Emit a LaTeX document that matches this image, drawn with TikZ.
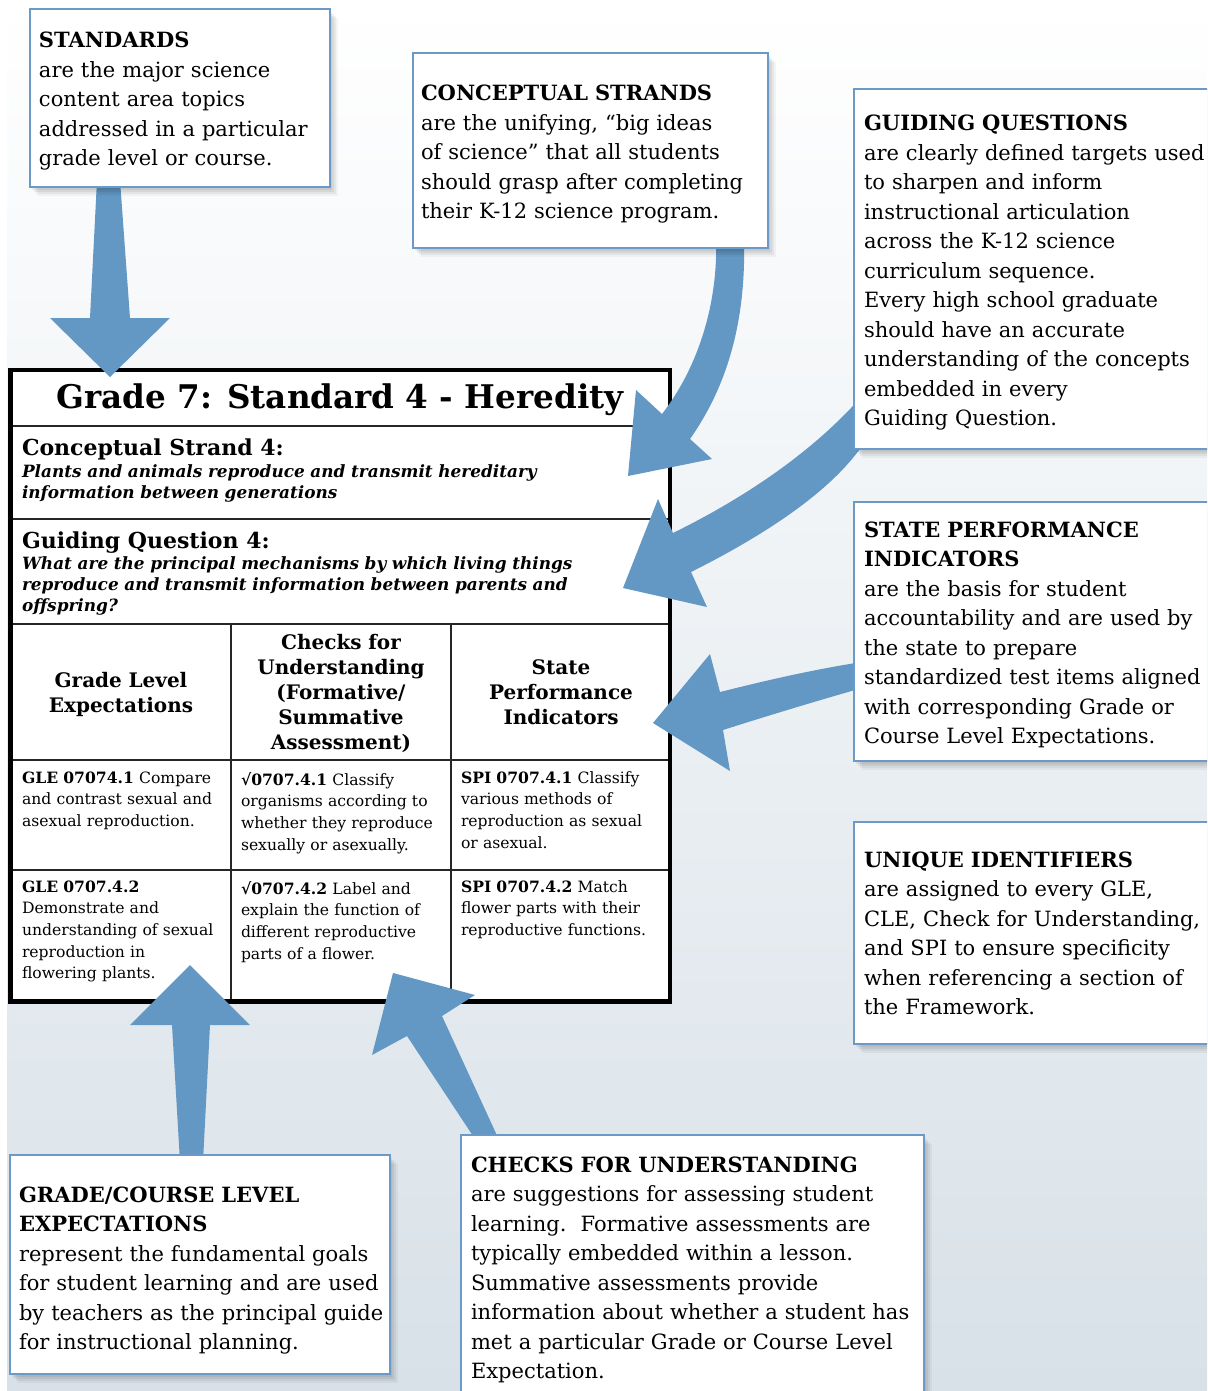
\documentclass[tikz,border=0pt]{standalone}
\usepackage{fontspec}
\setmainfont{DejaVu Serif}
\usetikzlibrary{fit}
\definecolor{arrowblue}{RGB}{99,152,197}
\definecolor{boxblue}{RGB}{108,154,200}
\definecolor{bgbot}{RGB}{216,225,232}
\tikzset{
  plain/.style={inner sep=0pt, outer sep=0pt},
  softshadow/.style={
    preaction={fill=black, fill opacity=0.06, transform canvas={shift={(1pt,-1.5pt)}}},
    preaction={fill=black, fill opacity=0.06, transform canvas={shift={(2pt,-2.5pt)}}},
    preaction={fill=black, fill opacity=0.05, transform canvas={shift={(3pt,-3.5pt)}}},
    preaction={fill=black, fill opacity=0.04, transform canvas={shift={(4pt,-4.5pt)}}}},
  callout/.style={plain, draw=boxblue, line width=1.1pt, fill=white, softshadow},
  calltext/.style={plain, anchor=base west, text width=260pt, align=left,
    font=\fontsize{10.5}{14.75}\selectfont},
  blockarrow/.style={fill=arrowblue},
  tframe/.style={plain, draw=black, line width=2.25pt, fill=white},
  tline/.style={draw=black!85, line width=0.8pt},
  titletext/.style={plain, anchor=base, font=\bfseries\fontsize{16.3}{19}\selectfont},
  rowhead/.style={plain, anchor=base west, font=\bfseries\fontsize{11}{14}\selectfont},
  rowtext/.style={plain, anchor=base west, text width=330pt, align=left,
    font=\bfseries\itshape\fontsize{8.45}{10.6}\selectfont},
  cellhead/.style={plain, anchor=base, text width=108pt, align=center,
    font=\bfseries\fontsize{10}{12.5}\selectfont},
  celltext/.style={plain, anchor=base west, text width=130pt, align=left,
    font=\fontsize{7.8}{10.85}\selectfont},
}
\begin{document}
\begin{tikzpicture}[x=0.5pt,y=-0.5pt]
\useasboundingbox (0,0) rectangle (1207,1391);
\clip (0,0) rectangle (1207,1391);
% background
\shade[top color=white, bottom color=bgbot] (7,0) rectangle (1207,1391);

% ---------- table ----------
\node[tframe, fit={(10.5,370) (670,1001.5)}] (tbl) {};
\draw[tline] (10.5,426) -- (670,426);
\draw[tline] (10.5,519) -- (670,519);
\draw[tline] (10.5,624) -- (670,624);
\draw[tline] (10.5,760) -- (670,760);
\draw[tline] (10.5,870) -- (670,870);
\draw[tline] (231,624) -- (231,1001.5);
\draw[tline] (451,624) -- (451,1001.5);
\draw[line width=2.25pt] (tbl.north west) rectangle (tbl.south east);

\node[titletext] (title) at (340,408) {Grade 7: Standard 4 - Heredity};
\node[rowhead] (cshead) at (22,455) {Conceptual Strand 4:};
\node[rowtext] (cstext) at (22,477) {Plants and animals reproduce and transmit hereditary\\information between generations};
\node[rowhead] (gqhead) at (22,548) {Guiding Question 4:};
\node[rowtext] (gqtext) at (22,569) {What are the principal mechanisms by which living things\\reproduce and transmit information between parents and\\offspring?};

\node[cellhead] (h1) at (121,687) {Grade Level\\Expectations};
\node[cellhead] (h2) at (341,649) {Checks for\\Understanding\\(Formative/\\Summative\\Assessment)};
\node[cellhead] (h3) at (561,674) {State\\Performance\\Indicators};

\node[celltext] (c11) at (22,783) {\textbf{GLE 07074.1} Compare\\and contrast sexual and\\asexual reproduction.};
\node[celltext] (c12) at (241,785) {\textbf{√0707.4.1} Classify\\organisms according to\\whether they reproduce\\sexually or asexually.};
\node[celltext] (c13) at (461,783) {\textbf{SPI 0707.4.1} Classify\\various methods of\\reproduction as sexual\\or asexual.};
\node[celltext] (c21) at (22,892) {\textbf{GLE 0707.4.2}\\Demonstrate and\\understanding of sexual\\reproduction in\\flowering plants.};
\node[celltext] (c22) at (241,894) {\textbf{√0707.4.2} Label and\\explain the function of\\different reproductive\\parts of a flower.};
\node[celltext] (c23) at (461,892) {\textbf{SPI 0707.4.2} Match\\flower parts with their\\reproductive functions.};

% ---------- block arrows ----------
% standards
\fill[blockarrow] (97,180) -- (120,180) -- (130,318) -- (170,318) -- (110,377) -- (50,318) -- (90,318) -- cycle;
% conceptual strands
\fill[blockarrow] (716,240) .. controls (718,300) and (700,365) .. (662,414) -- (636,390) -- (628,476) -- (712,459) -- (690,439) .. controls (728,385) and (746,320) .. (744,240) -- cycle;
% guiding questions
\fill[blockarrow] (862,396) .. controls (810,455) and (740,500) .. (673,533) -- (658,499) -- (623,588) -- (707,607) -- (691,572) .. controls (765,535) and (830,492) .. (862,446) -- cycle;
% state performance indicators
\fill[blockarrow] (862,662) .. controls (810,670) and (760,682) .. (720,692) -- (710,654) -- (653,723) -- (730,771) -- (723,730) .. controls (770,715) and (820,700) .. (862,688) -- cycle;
% grade level expectations
\fill[blockarrow] (180,1162) -- (172,1025) -- (130,1025) -- (190,965) -- (250,1025) -- (210,1025) -- (203,1162) -- cycle;
% checks for understanding
\fill[blockarrow] (477,1142) -- (407,1036) -- (372,1055) -- (393,973) -- (475,995) -- (442,1016) -- (500,1142) -- cycle;

% ---------- callout boxes ----------
\node[callout, fit={(30,9) (330,187)}] (stdbox) {};
\node[calltext] (stdtext) at (39,48) {\textbf{STANDARDS}\\are the major science\\content area topics\\addressed in a particular\\grade level or course.};

\node[callout, fit={(413,53) (768,248)}] (csbox) {};
\node[calltext] (cstxt) at (421,101) {\textbf{CONCEPTUAL STRANDS}\\are the unifying, “big ideas\\of science” that all students\\should grasp after completing\\their K-12 science program.};

\node[callout, fit={(854,89) (1220,449)}] (gqbox) {};
\node[calltext] (gqtxt) at (864,131) {\textbf{GUIDING QUESTIONS}\\are clearly defined targets used\\to sharpen and inform\\instructional articulation\\across the K-12 science\\curriculum sequence.\\Every high school graduate\\should have an accurate\\understanding of the concepts\\embedded in every\\Guiding Question.};

\node[callout, fit={(854,502) (1220,761)}] (spibox) {};
\node[calltext] (spitxt) at (864,537) {\textbf{STATE PERFORMANCE}\\\textbf{INDICATORS}\\are the basis for student\\accountability and are used by\\the state to prepare\\standardized test items aligned\\with corresponding Grade or\\Course Level Expectations.};

\node[callout, fit={(854,822) (1220,1044)}] (uidbox) {};
\node[calltext] (uidtxt) at (864,867) {\textbf{UNIQUE IDENTIFIERS}\\are assigned to every GLE,\\CLE, Check for Understanding,\\and SPI to ensure specificity\\when referencing a section of\\the Framework.};

\node[callout, fit={(10,1155) (390,1374)}] (glebox) {};
\node[calltext] (gletxt) at (19,1202) {\textbf{GRADE/COURSE LEVEL}\\\textbf{EXPECTATIONS}\\represent the fundamental goals\\for student learning and are used\\by teachers as the principal guide\\for instructional planning.};

\node[callout, fit={(461,1135) (924,1410)}] (cfubox) {};
\node[calltext] (cfutxt) at (471,1172) {\textbf{CHECKS FOR UNDERSTANDING}\\are suggestions for assessing student\\learning.\ \ Formative assessments are\\typically embedded within a lesson.\\Summative assessments provide\\information about whether a student has\\met a particular Grade or Course Level\\Expectation.};
\end{tikzpicture}
\end{document}
